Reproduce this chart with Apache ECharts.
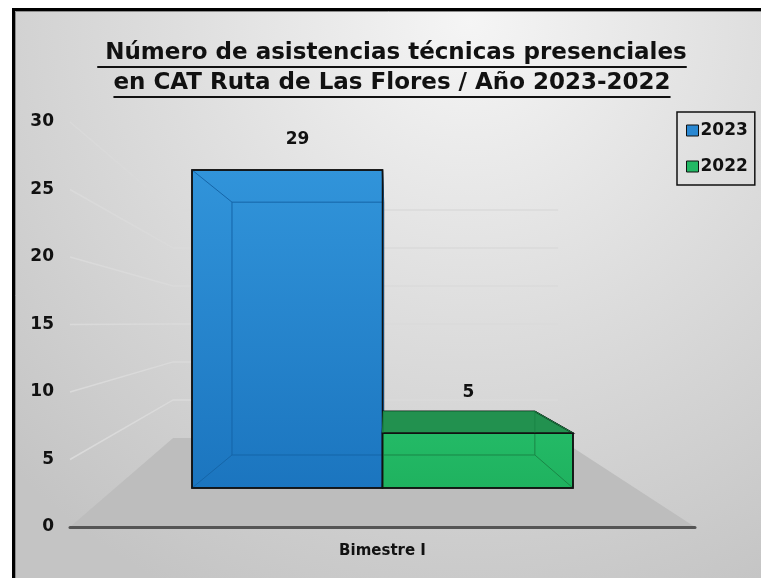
<!DOCTYPE html>
<html>
<head>
<meta charset="utf-8">
<script src="https://cdn.jsdelivr.net/npm/echarts@6/dist/echarts.min.js"></script>
<style>
  html, body { margin: 0; padding: 0; background: #fff; }
  #main { width: 761px; height: 578px; }
</style>
</head>
<body>
<div id="main"></div>
<script>
// datos
const categories = ['Bimestre I'];
const years = ['2023', '2022'];
const values2023 = [29];
const values2022 = [5];
const yTicks = [0, 5, 10, 15, 20, 25, 30];
const titleLines = [' Número de asistencias técnicas presenciales', 'en CAT Ruta de Las Flores / Año 2023-2022'];

const FONT = '"DejaVu Sans", Verdana, sans-serif';
const barColors = [
  { front: ['#3194da', '#1b75bf'], top: '#1d6fb5', edge: '#1565a8', legend: '#2a88d2' },
  { front: ['#25bd69', '#1fb25f'], top: '#22914f', edge: '#1a8646', legend: '#22b864' }
];

// medir el titulo para ajustar tamaño y subrayado
const ctx = document.createElement('canvas').getContext('2d');
function textWidth(t, size) {
  ctx.font = 'bold ' + size + 'px ' + FONT;
  return ctx.measureText(t).width;
}
const titleSize = Math.min(24, 20 * 590 / textWidth(titleLines[0], 20));

const titleGraphics = [];
titleLines.forEach((t, i) => {
  const y = 53 + i * 30;
  const w = textWidth(t, titleSize);
  titleGraphics.push({
    type: 'text', x: 392, y: y, z: 10,
    style: {
      text: t, font: 'bold ' + titleSize + 'px ' + FONT, fill: '#111',
      align: 'center', verticalAlign: 'middle'
    }
  });
  titleGraphics.push({
    type: 'rect', shape: { x: 392 - w / 2, y: y + 13, width: w, height: 2 },
    style: { fill: '#111' }, z: 10
  });
});

function hull(pts) {
  const p = pts.slice().sort((a, b) => a[0] - b[0] || a[1] - b[1]);
  const cross = (o, a, b) => (a[0] - o[0]) * (b[1] - o[1]) - (a[1] - o[1]) * (b[0] - o[0]);
  const lower = [], upper = [];
  for (const q of p) {
    while (lower.length >= 2 && cross(lower[lower.length - 2], lower[lower.length - 1], q) <= 0) lower.pop();
    lower.push(q);
  }
  for (let i = p.length - 1; i >= 0; i--) {
    const q = p[i];
    while (upper.length >= 2 && cross(upper[upper.length - 2], upper[upper.length - 1], q) <= 0) upper.pop();
    upper.push(q);
  }
  upper.pop(); lower.pop();
  return lower.concat(upper);
}

// piso y lineas de pared (perspectiva)
function renderWalls(params, api) {
  const cs = params.coordSys;
  const v = api.value(1);
  const y = api.coord([0, v])[1];
  const bx0 = cs.x + cs.width * 0.165;
  const bx1 = cs.x + cs.width * (1 - 0.219);
  const by = cs.y + cs.height * 0.217 + (y - cs.y) * 0.563;
  if (v === 0) {
    return {
      type: 'polygon',
      shape: { points: [[cs.x, y], [cs.x + cs.width, y], [bx1, by], [bx0, by]] },
      style: { fill: '#bdbdbd' }
    };
  }
  return {
    type: 'polyline',
    shape: { points: [[cs.x, y], [bx0, by], [bx1, by]] },
    style: { stroke: '#dadada', lineWidth: 1.5, fill: null }
  };
}

function makeBarRenderer(idx) {
  return function (params, api) {
    const cs = params.coordSys;
    const cat = api.value(0);
    const val = api.value(1);
    const band = api.size([1, 0])[0];
    const cx = api.coord([cat, 0])[0];
    const x0 = idx === 0 ? cx - band / 2 : cx;
    const x1 = idx === 0 ? cx : cx + band / 2;
    const yt = api.coord([cat, val])[1];
    const yb = api.coord([cat, 0])[1];
    const vp = [cs.x + cs.width / 2 + 4.5, cs.y + cs.height / 2 + 3.5];
    const k = 0.795;
    const back = p => [vp[0] + (p[0] - vp[0]) * k, vp[1] + (p[1] - vp[1]) * k];
    const FTL = [x0, yt], FTR = [x1, yt], FBR = [x1, yb], FBL = [x0, yb];
    const BTL = back(FTL), BTR = back(FTR), BBR = back(FBR), BBL = back(FBL);
    const c = barColors[idx];
    const children = [];
    children.push({
      type: 'polygon',
      shape: { points: hull([FTL, FTR, FBR, FBL, BTL, BTR, BBR, BBL]) },
      style: {
        fill: new echarts.graphic.LinearGradient(0, 0, 0, 1, [
          { offset: 0, color: c.front[0] }, { offset: 1, color: c.front[1] }
        ]),
        stroke: '#111', lineWidth: 1.5
      }
    });
    if (BTL[1] < FTL[1]) {
      children.push({
        type: 'polygon',
        shape: { points: [FTL, FTR, BTR, BTL] },
        style: { fill: c.top, stroke: '#111', lineWidth: 1.3 }
      });
    }
    const edge = { stroke: c.edge, lineWidth: 1, fill: null };
    children.push({ type: 'polygon', shape: { points: [BTL, BTR, BBR, BBL] }, style: edge });
    [[FTL, BTL], [FTR, BTR], [FBR, BBR], [FBL, BBL]].forEach(pair => {
      children.push({
        type: 'line',
        shape: { x1: pair[0][0], y1: pair[0][1], x2: pair[1][0], y2: pair[1][1] },
        style: edge
      });
    });
    children.push({
      type: 'rect',
      shape: { x: x0, y: yt, width: x1 - x0, height: yb - yt },
      style: { fill: null, stroke: '#111', lineWidth: 1.5 }
    });
    const lx = ((x0 + x1) / 2 + (BTL[0] + BTR[0]) / 2) / 2;
    const ly = (Math.min(FTL[1], BTL[1]) + FTL[1]) / 2 - 30;
    children.push({
      type: 'text',
      x: lx, y: ly,
      style: {
        text: String(val), font: 'bold 17px ' + FONT, fill: '#111',
        align: 'center', verticalAlign: 'middle'
      }
    });
    return { type: 'group', children: children };
  };
}

const chart = echarts.init(document.getElementById('main'));
chart.setOption({
  animation: false,
  backgroundColor: '#fff',
  graphic: [
    {
      type: 'rect', z: -10,
      shape: { x: 13.5, y: 9.5, width: 760, height: 580 },
      style: {
        fill: new echarts.graphic.RadialGradient(0.6, 0.02, 1.1, [
          { offset: 0, color: '#f5f5f5' },
          { offset: 0.5, color: '#dcdcdc' },
          { offset: 1, color: '#c4c4c4' }
        ]),
        stroke: '#000', lineWidth: 3
      }
    },
    {
      type: 'rect', z: -9,
      shape: { x: 15.5, y: 11.5, width: 760, height: 580 },
      style: { fill: null, stroke: '#8c8c8c', lineWidth: 1 }
    }
  ].concat(titleGraphics),
  legend: {
    data: years,
    orient: 'vertical',
    left: 677, top: 112,
    padding: [10, 7, 10, 9],
    itemGap: 19,
    itemWidth: 12, itemHeight: 11,
    icon: 'rect',
    borderColor: '#111', borderWidth: 1.5,
    itemStyle: { borderColor: '#111', borderWidth: 1 },
    textStyle: { fontFamily: FONT, fontWeight: 'bold', fontSize: 17, color: '#111', padding: [0, 0, 0, -3] }
  },
  grid: [
    { left: 70, right: 66, top: 122, bottom: 51 },
    { left: 192, right: 188, top: 159, bottom: 90 }
  ],
  xAxis: [
    {
      type: 'category', gridIndex: 0, data: categories, z: 10,
      axisLine: { lineStyle: { color: '#555', width: 3 } },
      axisTick: { show: false },
      axisLabel: { fontFamily: FONT, fontWeight: 'bold', fontSize: 15, color: '#111', margin: 17 }
    },
    { type: 'category', gridIndex: 1, data: categories, show: false }
  ],
  yAxis: [
    {
      type: 'value', gridIndex: 0, min: 0, max: 30, interval: 5,
      axisLine: { show: false }, axisTick: { show: false }, splitLine: { show: false },
      axisLabel: { fontFamily: FONT, fontWeight: 'bold', fontSize: 17, color: '#111', margin: 16 }
    },
    { type: 'value', gridIndex: 1, min: 0, max: 30, show: false, splitLine: { show: false } }
  ],
  series: [
    {
      type: 'custom', xAxisIndex: 0, yAxisIndex: 0, z: 1, silent: true,
      renderItem: renderWalls,
      data: yTicks.map(v => [0, v])
    },
    {
      name: years[0], type: 'custom', xAxisIndex: 1, yAxisIndex: 1, z: 3,
      itemStyle: { color: barColors[0].legend },
      renderItem: makeBarRenderer(0),
      data: values2023.map((v, i) => [i, v])
    },
    {
      name: years[1], type: 'custom', xAxisIndex: 1, yAxisIndex: 1, z: 3,
      itemStyle: { color: barColors[1].legend },
      renderItem: makeBarRenderer(1),
      data: values2022.map((v, i) => [i, v])
    }
  ]
});
</script>
</body>
</html>
